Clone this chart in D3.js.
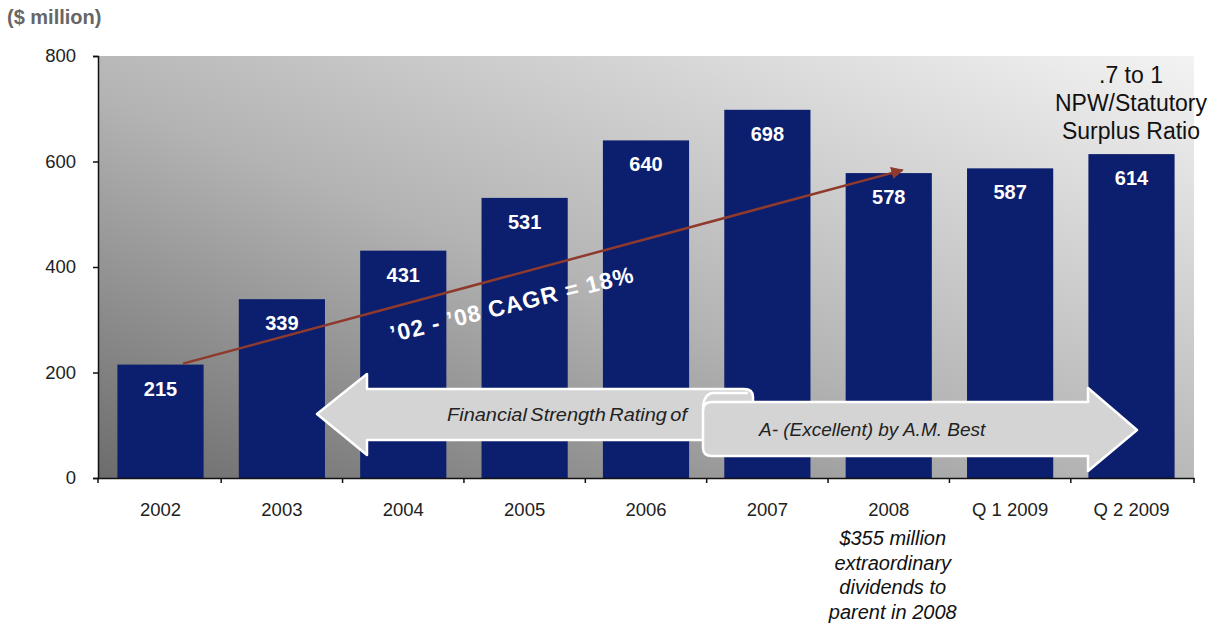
<!DOCTYPE html>
<html>
<head>
<meta charset="utf-8">
<script src="https://cdn.jsdelivr.net/npm/d3@7"></script>
<style>
  html, body { margin: 0; padding: 0; background: #fff; }
  svg { display: block; font-family: "Liberation Sans", Arial, sans-serif; }
</style>
</head>
<body>
<svg id="chart" width="1219" height="625"></svg>
<script>
// Statutory surplus, $ million
const categories = ["2002", "2003", "2004", "2005", "2006", "2007", "2008", "Q 1 2009", "Q 2 2009"];
const surplus = [215, 339, 431, 531, 640, 698, 578, 587, 614];
const yTicks = [0, 200, 400, 600, 800];
const unitLabel = "($ million)";
const cagrLabel = "\u201902 - \u201908 CAGR = 18%";
const ratioNote = [".7 to 1", "NPW/Statutory", "Surplus Ratio"];
const dividendNote = ["$355 million", "extraordinary", "dividends to", "parent in 2008"];
const ratingLeft = "Financial Strength Rating of";
const ratingRight = "A- (Excellent) by A.M. Best";

const FONT = "'Liberation Sans', Arial, sans-serif";
const svg = d3.select("#chart");
const plot = { left: 98, right: 1194, top: 56, bottom: 478 };

const x = d3.scaleBand().domain(categories)
  .range([plot.left, plot.right]).paddingInner(0.29).paddingOuter(0.16);
const y = d3.scaleLinear().domain([0, 800]).range([plot.bottom, plot.top]);

// background wash: dark lower-left fading to light upper-right
const defs = svg.append("defs");
const grad = defs.append("linearGradient").attr("id", "wash")
  .attr("x1", 0).attr("y1", 1).attr("x2", 1).attr("y2", 0);
grad.append("stop").attr("offset", 0).attr("stop-color", "#6c6c6c");
grad.append("stop").attr("offset", 0.45).attr("stop-color", "#b3b3b3");
grad.append("stop").attr("offset", 1).attr("stop-color", "#f3f3f3");

svg.append("rect")
  .attr("x", plot.left).attr("y", plot.top)
  .attr("width", plot.right - plot.left).attr("height", plot.bottom - plot.top)
  .attr("fill", "url(#wash)");

// bars
svg.append("g").selectAll("rect").data(categories).join("rect")
  .attr("x", d => x(d))
  .attr("y", (d, i) => y(surplus[i]))
  .attr("width", x.bandwidth())
  .attr("height", (d, i) => y(0) - y(surplus[i]))
  .attr("fill", "#0c1e6e");

// value labels
svg.append("g").selectAll("text").data(categories).join("text")
  .attr("x", d => x(d) + x.bandwidth() / 2)
  .attr("y", (d, i) => y(surplus[i]) + 31)
  .attr("text-anchor", "middle")
  .attr("fill", "#fff")
  .attr("font-weight", "bold")
  .attr("font-size", 20)
  .text((d, i) => surplus[i]);

// growth arrow from 2002 to 2008
defs.append("marker").attr("id", "head")
  .attr("viewBox", "0 0 10 10").attr("refX", 9).attr("refY", 5)
  .attr("markerWidth", 5).attr("markerHeight", 5).attr("orient", "auto")
  .append("path").attr("d", "M0,0 L10,5 L0,10 Z").attr("fill", "#8f3a2c");

const i0 = categories.indexOf("2002"), i1 = categories.indexOf("2008");
const ax0 = x(categories[i0]) + x.bandwidth() * 0.76, ay0 = y(surplus[i0]) - 1;
const ax1 = x(categories[i1]) + x.bandwidth() * 0.66, ay1 = y(surplus[i1]) - 3;
svg.append("line")
  .attr("x1", ax0).attr("y1", ay0).attr("x2", ax1).attr("y2", ay1)
  .attr("stroke", "#8f3a2c").attr("stroke-width", 2.5)
  .attr("marker-end", "url(#head)");

svg.append("text")
  .attr("transform", "translate(514,312) rotate(-14)")
  .attr("text-anchor", "middle")
  .attr("fill", "#fff")
  .attr("font-weight", "bold")
  .attr("font-size", 23)
  .attr("letter-spacing", 1)
  .text(cagrLabel);

// rating banner: left-pointing arrow, curled over by a right-pointing arrow
const banner = svg.append("g")
  .attr("fill", "#d4d4d4").attr("stroke", "#fff").attr("stroke-width", 2.5)
  .attr("stroke-linejoin", "round");

banner.append("path").attr("d",
  "M317,414 L367,374 L367,389 L744,389 Q753,389 753,397 L753,440 L367,440 L367,455 Z");

banner.append("path").attr("d",
  "M712,402 L1088,402 L1088,388 L1137,430 L1088,471 L1088,456 L712,456 " +
  "Q703,456 703,448 L703,410 Q703,402 712,402 Z");

// curl edge where the two ribbons meet
banner.append("path").attr("fill", "none")
  .attr("d", "M703,410 Q703,395 712,393 L748,393");

svg.append("text")
  .attr("x", 447).attr("y", 421)
  .attr("font-style", "italic").attr("font-size", 19)
  .attr("word-spacing", -2)
  .attr("textLength", 240).attr("lengthAdjust", "spacingAndGlyphs")
  .attr("fill", "#222").text(ratingLeft);

svg.append("text")
  .attr("x", 759).attr("y", 436)
  .attr("font-style", "italic").attr("font-size", 19)
  .attr("fill", "#222").text(ratingRight);

// axes
const yAxis = d3.axisLeft(y).tickValues(yTicks).tickSize(5).tickPadding(17);
const gy = svg.append("g").attr("transform", `translate(${plot.left},0)`).call(yAxis);
gy.selectAll("text").attr("font-size", 18.5).attr("fill", "#222").attr("font-family", FONT);
gy.select(".domain").attr("stroke", "#111").attr("stroke-width", 1.5);
gy.selectAll(".tick line").attr("stroke", "#111").attr("stroke-width", 1.5);

const gx = svg.append("g").attr("transform", `translate(0,${plot.bottom})`)
  .call(d3.axisBottom(x).tickSize(0).tickPadding(25));
gx.selectAll("text").attr("font-size", 18.5).attr("fill", "#222").attr("font-family", FONT);
gx.select(".domain").attr("stroke", "#111").attr("stroke-width", 1.5);

// boundary ticks between categories
const bounds = categories.map(c => x(c) - x.step() * x.paddingInner() / 2).concat([plot.right]);
bounds[0] = plot.left;
svg.append("g").selectAll("line").data(bounds).join("line")
  .attr("x1", d => d).attr("x2", d => d)
  .attr("y1", plot.bottom).attr("y2", plot.bottom + 5)
  .attr("stroke", "#111").attr("stroke-width", 1.5);

// unit label
svg.append("text").attr("x", 7).attr("y", 24)
  .attr("font-weight", "bold").attr("font-size", 20).attr("fill", "#666")
  .text(unitLabel);

// ratio note over the last bar
svg.append("g").selectAll("text").data(ratioNote).join("text")
  .attr("x", 1131).attr("y", (d, i) => 83 + i * 28)
  .attr("text-anchor", "middle").attr("font-size", 23).attr("fill", "#111")
  .text(d => d);

// dividend note under 2008
svg.append("g").selectAll("text").data(dividendNote).join("text")
  .attr("x", x("2008") + x.bandwidth() / 2 + 4).attr("y", (d, i) => 545 + i * 24.5)
  .attr("text-anchor", "middle").attr("font-style", "italic")
  .attr("font-size", 20).attr("fill", "#111")
  .text(d => d);
</script>
</body>
</html>
